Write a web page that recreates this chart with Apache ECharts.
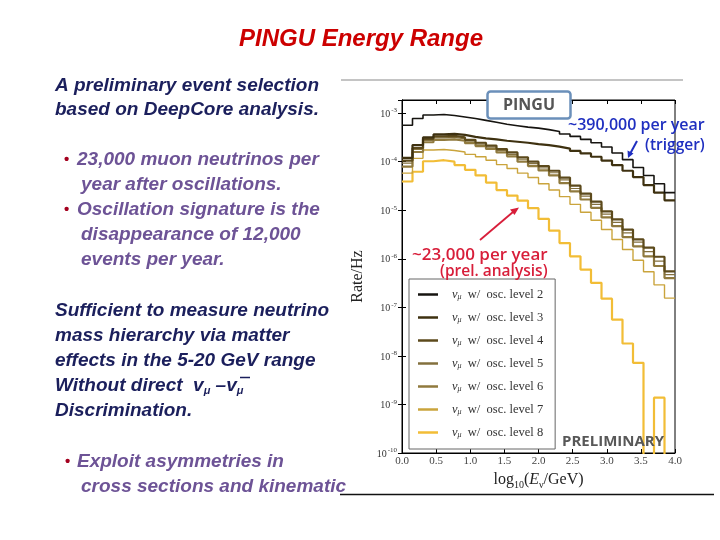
<!DOCTYPE html>
<html><head><meta charset="utf-8">
<script src="https://cdn.jsdelivr.net/npm/echarts@6/dist/echarts.min.js"></script>
<style>html,body{margin:0;padding:0;background:#fff}#c{width:720px;height:540px}</style>
</head><body><div id="c"></div>
<script>
// bin edges of log10(E/GeV), 26 bins 0..4
const binEdges = [0, 0.1538, 0.3077, 0.4615, 0.6154, 0.7692, 0.9231, 1.0769, 1.2308, 1.3846, 1.5385, 1.6923, 1.8462, 2.0, 2.1538, 2.3077, 2.4615, 2.6154, 2.7692, 2.9231, 3.0769, 3.2308, 3.3846, 3.5385, 3.6923, 3.8462, 4.0];
const xTicks = [0, 0.5, 1.0, 1.5, 2.0, 2.5, 3.0, 3.5, 4.0];
const levelNames = ['level 2', 'level 3', 'level 4', 'level 5', 'level 6', 'level 7', 'level 8'];
// Rate / Hz per bin
const level2 = [5.62e-4, 7.76e-4, 9.12e-4, 9.33e-4, 8.91e-4, 8.32e-4, 7.76e-4, 7.08e-4, 6.46e-4, 5.89e-4, 5.50e-4, 5.13e-4, 4.90e-4, 4.57e-4, 4.17e-4, 3.72e-4, 3.31e-4, 2.88e-4, 2.45e-4, 2.00e-4, 1.51e-4, 1.10e-4, 7.6e-5, 5.2e-5, 3.5e-5, 2.3e-5];
const level3 = [1.20e-4, 2.19e-4, 3.16e-4, 3.63e-4, 3.72e-4, 3.55e-4, 3.24e-4, 3.02e-4, 2.88e-4, 2.69e-4, 2.57e-4, 2.45e-4, 2.29e-4, 2.19e-4, 2.04e-4, 1.86e-4, 1.66e-4, 1.48e-4, 1.26e-4, 1.05e-4, 8.5e-5, 6.5e-5, 4.8e-5, 3.3e-5, 2.3e-5, 1.6e-5];
const level4 = [1.05e-4, 1.91e-4, 2.95e-4, 3.31e-4, 3.39e-4, 3.16e-4, 2.82e-4, 2.45e-4, 2.14e-4, 1.82e-4, 1.55e-4, 1.23e-4, 1.00e-4, 8.1e-5, 6.5e-5, 4.7e-5, 3.2e-5, 2.2e-5, 1.5e-5, 9.5e-6, 6.5e-6, 4.0e-6, 2.5e-6, 1.7e-6, 1.1e-6, 5.5e-7];
const level5 = [9.3e-5, 1.78e-4, 2.75e-4, 3.09e-4, 3.16e-4, 2.95e-4, 2.63e-4, 2.29e-4, 2.00e-4, 1.70e-4, 1.41e-4, 1.12e-4, 9.1e-5, 7.4e-5, 5.9e-5, 4.2e-5, 2.8e-5, 1.95e-5, 1.32e-5, 8.3e-6, 5.6e-6, 3.4e-6, 2.2e-6, 1.4e-6, 8.9e-7, 4.7e-7];
const level6 = [7.9e-5, 1.58e-4, 2.51e-4, 2.82e-4, 2.88e-4, 2.69e-4, 2.40e-4, 2.09e-4, 1.82e-4, 1.55e-4, 1.29e-4, 1.00e-4, 8.1e-5, 6.6e-5, 5.2e-5, 3.6e-5, 2.45e-5, 1.66e-5, 1.12e-5, 7.1e-6, 4.7e-6, 2.8e-6, 1.8e-6, 1.12e-6, 7.1e-7, 4.0e-7];
const level7 = [5.8e-5, 1.17e-4, 1.74e-4, 1.78e-4, 1.70e-4, 1.58e-4, 1.41e-4, 1.26e-4, 1.07e-4, 8.7e-5, 7.2e-5, 5.8e-5, 4.7e-5, 3.5e-5, 2.6e-5, 1.9e-5, 1.32e-5, 9.1e-6, 6.2e-6, 4.0e-6, 2.5e-6, 1.55e-6, 9.3e-7, 5.4e-7, 2.9e-7, 1.55e-7];
const level8 = [3.9e-5, 6.2e-5, 1.02e-4, 1.07e-4, 1.00e-4, 8.5e-5, 6.8e-5, 5.2e-5, 3.7e-5, 2.6e-5, 2.0e-5, 1.58e-5, 1.10e-5, 6.6e-6, 3.8e-6, 2.1e-6, 1.12e-6, 6.0e-7, 3.2e-7, 1.51e-7, 5.6e-8, 1.8e-8, 7.2e-9, 0, 1.38e-9, 0];

const yMin = 1e-10, yMax = 1.86e-3;
const floorValue = 1e-11; // empty bins drawn below the axis (clipped), like matplotlib

const levelData = [level2, level3, level4, level5, level6, level7, level8];
const colors = ['#161410', '#3e3110', '#5c4a1c', '#83703e', '#907a3e', '#caa43c', '#f2bd36'];
const widths = [1.6, 2.2, 2.2, 1.2, 2.2, 1.4, 2.2];

function stepData(vals) {
  const pts = vals.map((v, i) => [binEdges[i], v > 0 ? v : floorValue]);
  const last = vals[vals.length - 1];
  pts.push([binEdges[binEdges.length - 1], last > 0 ? last : floorValue]);
  return pts;
}

const serif = '"Liberation Serif", "DejaVu Serif", serif';
const sans = '"Liberation Sans", Arial, sans-serif';

function yLabel(v) {
  const e = Math.log10(v);
  if (Math.abs(e - Math.round(e)) > 1e-6) return '';
  return '{b|10}{e|' + Math.round(e) + '}';
}
const yRich = {
  b: { fontFamily: serif, fontSize: 10, color: '#333', verticalAlign: 'bottom', lineHeight: 12 },
  e: { fontFamily: serif, fontSize: 7, color: '#333', verticalAlign: 'top', lineHeight: 8, padding: [0, 0, 6, 1] }
};

const series = levelNames.map((n, i) => ({
  name: n, type: 'line', step: 'end', symbol: 'none', clip: true,
  data: stepData(levelData[i]),
  lineStyle: { color: colors[i], width: widths[i] },
  itemStyle: { color: colors[i] },
  z: 10 - i
}));

const navy = '#1b1f5c', purple = '#6d5396', bulletRed = '#a4001f';
const shadow = { textShadowColor: 'rgba(0,0,0,0.22)', textShadowOffsetX: 1.5, textShadowOffsetY: 1.5, textShadowBlur: 0 };
function txt(x, y, text, font, fill, extra, z) {
  return { type: 'text', x: x, y: y, z: z || 0, style: Object.assign({ text: text, font: font, fill: fill, textVerticalAlign: 'middle' }, extra || {}) };
}
const bodyFont = 'italic bold 19px ' + sans;

const chart = echarts.init(document.getElementById('c'), null, { renderer: 'canvas' });
chart.setOption({
  animation: false,
  backgroundColor: '#fff',
  grid: { left: 402, right: 45, top: 100, bottom: 87, show: true, borderColor: '#000', borderWidth: 1, backgroundColor: 'transparent' },
  xAxis: [{
    type: 'value', min: 0, max: 4, interval: 0.5,
    axisLine: { show: true, lineStyle: { color: '#000' } },
    axisTick: { show: true, inside: true, length: 4, lineStyle: { color: '#000' } },
    splitLine: { show: false },
    axisLabel: { fontFamily: serif, fontSize: 11, color: '#444', margin: 3, formatter: v => v.toFixed(1) },
    name: '{t|log}{s|10}{t|(}{i|E}{s|ν}{t|/GeV)}', nameLocation: 'middle', nameGap: 17,
    nameTextStyle: { rich: {
      t: { fontFamily: serif, fontSize: 16, color: '#222' },
      i: { fontFamily: serif, fontSize: 16, fontStyle: 'italic', color: '#222' },
      s: { fontFamily: serif, fontSize: 10, color: '#222', padding: [10, 0, 0, 0] } } }
  }, {
    type: 'value', min: 0, max: 4, interval: 0.5, position: 'top',
    axisLine: { show: true, lineStyle: { color: '#000' } },
    axisTick: { show: true, inside: true, length: 4, lineStyle: { color: '#000' } },
    axisLabel: { show: false }, splitLine: { show: false }
  }],
  yAxis: [{
    type: 'log', logBase: 10, min: yMin, max: yMax, splitNumber: 7,
    axisLine: { show: true, lineStyle: { color: '#000' } },
    axisTick: { show: true, inside: true, length: 4, lineStyle: { color: '#000' } },
    splitLine: { show: false },
    axisLabel: { formatter: yLabel, rich: yRich, margin: 5, showMaxLabel: false },
    name: 'Rate/Hz', nameLocation: 'middle', nameGap: 36, nameRotate: 90,
    nameTextStyle: { fontFamily: serif, fontSize: 16, color: '#222' }
  }, {
    type: 'log', logBase: 10, min: yMin, max: yMax, splitNumber: 7, position: 'right',
    axisLine: { show: true, lineStyle: { color: '#000' } },
    axisTick: { show: true, inside: true, length: 4, lineStyle: { color: '#000' } },
    splitLine: { show: false }, axisLabel: { show: false }
  }],
  legend: {
    orient: 'vertical', left: 409, top: 279, data: levelNames,
    icon: 'rect', itemWidth: 20, itemHeight: 2.5, itemGap: 10,
    padding: [9, 12, 10, 9],
    backgroundColor: '#fff', borderColor: '#666', borderWidth: 1,
    formatter: n => '{n|ν}{s|μ}{t|  w/  osc. ' + n + '}',
    textStyle: { padding: [0, 0, 0, 9], lineHeight: 12.5, rich: {
      n: { fontFamily: serif, fontSize: 12.5, fontStyle: 'italic', color: '#333', lineHeight: 12.5 },
      s: { fontFamily: serif, fontSize: 8, fontStyle: 'italic', color: '#333', lineHeight: 12.5, padding: [5, 0, 0, 0] },
      t: { fontFamily: serif, fontSize: 12.5, color: '#333', lineHeight: 12.5 } } }
  },
  series: series,
  graphic: [
    // slide lines
    { type: 'line', shape: { x1: 341, y1: 80, x2: 683, y2: 80 }, style: { stroke: '#c4c4c4', lineWidth: 2 } },
    { type: 'line', shape: { x1: 340, y1: 494.5, x2: 714, y2: 494.5 }, style: { stroke: '#111', lineWidth: 1.5 } },
    // title
    txt(361, 39, 'PINGU Energy Range', 'italic bold 24px ' + sans, '#cc0000', { textAlign: 'center', textShadowColor: 'rgba(0,0,0,0.15)', textShadowOffsetX: 1, textShadowOffsetY: 1 }),
    // left text
    txt(55, 86, 'A preliminary event selection', bodyFont, navy, shadow),
    txt(55, 110, 'based on DeepCore analysis.', bodyFont, navy, shadow),
    txt(64, 160, '•', 'bold 15px ' + sans, bulletRed),
    txt(77, 160, '23,000 muon neutrinos per', bodyFont, purple, shadow),
    txt(81, 185, 'year after oscillations.', bodyFont, purple, shadow),
    txt(64, 210, '•', 'bold 15px ' + sans, bulletRed),
    txt(77, 210, 'Oscillation signature is the', bodyFont, purple, shadow),
    txt(81, 235, 'disappearance of 12,000', bodyFont, purple, shadow),
    txt(81, 260, 'events per year.', bodyFont, purple, shadow),
    txt(55, 311, 'Sufficient to measure neutrino', bodyFont, navy, shadow),
    txt(55, 336, 'mass hierarchy via matter', bodyFont, navy, shadow),
    txt(55, 361, 'effects in the 5-20 GeV range', bodyFont, navy, shadow),
    { type: 'text', x: 55, y: 386, style: Object.assign({ text: '{t|Without direct  v}{s|μ}{t| –v}{s|μ}', textVerticalAlign: 'middle', fill: navy,
      rich: { t: { font: bodyFont, fill: navy }, s: { font: 'italic bold 11px ' + sans, fill: navy, padding: [9, 0, 0, 0] } } }, shadow) },
    { type: 'line', shape: { x1: 240, y1: 377.5, x2: 250, y2: 377.5 }, style: { stroke: navy, lineWidth: 1.5 } },
    txt(55, 411, 'Discrimination.', bodyFont, navy, shadow),
    txt(65, 462, '•', 'bold 15px ' + sans, bulletRed),
    txt(77, 462, 'Exploit asymmetries in', bodyFont, purple, shadow),
    txt(81, 487, 'cross sections and kinematic', bodyFont, purple, shadow),
    // chart annotations
    { type: 'rect', z: 100, shape: { x: 487.5, y: 91.5, width: 83, height: 27, r: 3 }, style: { fill: '#fff', stroke: '#6b90ba', lineWidth: 2.5 } },
    txt(529, 105, 'PINGU', 'bold 16px "Open Sans", ' + sans, '#555', { textAlign: 'center' }, 101),
    txt(568, 125, '~390,000 per year', '600 16px "Open Sans", ' + sans, '#1f2fc0', null, 101),
    txt(645, 146, '(trigger)', '600 15.5px "Open Sans", ' + sans, '#1f2fc0', null, 101),
    { type: 'line', z: 101, shape: { x1: 637, y1: 141, x2: 630.5, y2: 153 }, style: { stroke: '#1f2fc0', lineWidth: 2 } },
    { type: 'polygon', z: 101, shape: { points: [[628, 158], [627.5, 150.5], [633.5, 153.5]] }, style: { fill: '#1f2fc0' } },
    txt(412, 255, '~23,000 per year', '600 17px "Open Sans", ' + sans, '#d81e3a', null, 101),
    txt(440, 272, '(prel. analysis)', '600 15.5px "Open Sans", ' + sans, '#d81e3a', null, 101),
    { type: 'line', z: 101, shape: { x1: 480, y1: 240, x2: 513, y2: 212 }, style: { stroke: '#d81e3a', lineWidth: 1.8 } },
    { type: 'polygon', z: 101, shape: { points: [[519, 207.5], [510, 209.5], [514.5, 215]] }, style: { fill: '#d81e3a' } },
    txt(562, 442, 'PRELIMINARY', 'bold 15px "Open Sans", ' + sans, '#585858', null, 101)
  ]
});
</script></body></html>
